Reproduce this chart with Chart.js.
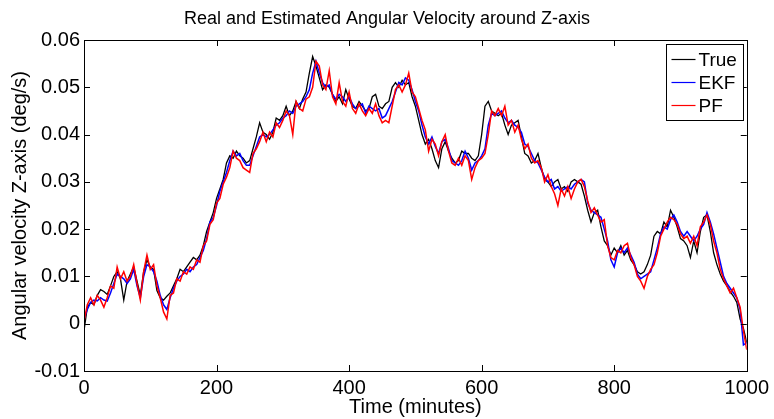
<!DOCTYPE html>
<html>
<head>
<meta charset="utf-8">
<script src="https://cdn.jsdelivr.net/npm/chart.js@4.4.0/dist/chart.umd.min.js"></script>
<style>
html, body { margin: 0; padding: 0; background: #fff; }
</style>
</head>
<body>
<canvas id="line-chart" width="774" height="419"></canvas>
<script>
// sample times, every 5 minutes from 0 to 1000
var minutes = [];
for (var m = 0; m <= 1000; m += 5) minutes.push(m);

// angular velocity around Z (deg/s)
var trueVel = [
  -0.0015, 0.0035, 0.0045, 0.0040, 0.0060, 0.0072, 0.0068, 0.0062, 0.0080, 0.0100,
  0.0110, 0.0095, 0.0050, 0.0090, 0.0105, 0.0120, 0.0090, 0.0060, 0.0110, 0.0135,
  0.0120, 0.0115, 0.0070, 0.0055, 0.0050, 0.0058, 0.0065, 0.0080, 0.0095, 0.0115,
  0.0110, 0.0120, 0.0130, 0.0140, 0.0135, 0.0145, 0.0165, 0.0195, 0.0215, 0.0235,
  0.0265, 0.0285, 0.0305, 0.0340, 0.0355, 0.0350, 0.0365, 0.0355, 0.0350, 0.0340,
  0.0345, 0.0370, 0.0395, 0.0425, 0.0405, 0.0400, 0.0390, 0.0405, 0.0435, 0.0430,
  0.0440, 0.0460, 0.0440, 0.0450, 0.0470, 0.0455, 0.0475, 0.0490, 0.0530, 0.0565,
  0.0545, 0.0520, 0.0495, 0.0505, 0.0500, 0.0485, 0.0470, 0.0480, 0.0465, 0.0495,
  0.0475, 0.0460, 0.0455, 0.0470, 0.0460, 0.0450, 0.0455, 0.0480, 0.0485, 0.0460,
  0.0455, 0.0465, 0.0470, 0.0500, 0.0510, 0.0500, 0.0515, 0.0505, 0.0510, 0.0480,
  0.0460, 0.0430, 0.0400, 0.0380, 0.0390, 0.0370, 0.0345, 0.0330, 0.0370, 0.0385,
  0.0365, 0.0350, 0.0340, 0.0345, 0.0365, 0.0360, 0.0360, 0.0350, 0.0345, 0.0355,
  0.0400, 0.0460, 0.0470, 0.0450, 0.0445, 0.0440, 0.0445, 0.0420, 0.0400, 0.0420,
  0.0425, 0.0430, 0.0395, 0.0360, 0.0355, 0.0340, 0.0345, 0.0360, 0.0330, 0.0305,
  0.0300, 0.0290, 0.0300, 0.0305, 0.0285, 0.0290, 0.0280, 0.0300, 0.0305, 0.0300,
  0.0295, 0.0270, 0.0240, 0.0215, 0.0235, 0.0240, 0.0205, 0.0175, 0.0165, 0.0145,
  0.0160, 0.0150, 0.0165, 0.0145, 0.0155, 0.0135, 0.0125, 0.0110, 0.0105, 0.0110,
  0.0125, 0.0145, 0.0185, 0.0195, 0.0190, 0.0215, 0.0205, 0.0240, 0.0225, 0.0205,
  0.0180, 0.0175, 0.0165, 0.0140, 0.0175, 0.0150, 0.0195, 0.0225, 0.0230, 0.0195,
  0.0150, 0.0125, 0.0105, 0.0090, 0.0080, 0.0068, 0.0058, 0.0045, 0.0010, -0.0010,
  -0.0040
];

var ekfVel = [
  0.0010, 0.0030, 0.0045, 0.0050, 0.0048, 0.0055, 0.0050, 0.0048, 0.0065, 0.0085,
  0.0105, 0.0100, 0.0095, 0.0085, 0.0095, 0.0115, 0.0080, 0.0055, 0.0100, 0.0125,
  0.0120, 0.0110, 0.0090, 0.0060, 0.0040, 0.0030, 0.0055, 0.0075, 0.0090, 0.0100,
  0.0105, 0.0115, 0.0110, 0.0120, 0.0125, 0.0140, 0.0155, 0.0180, 0.0215, 0.0225,
  0.0250, 0.0280, 0.0300, 0.0320, 0.0345, 0.0365, 0.0355, 0.0360, 0.0345, 0.0335,
  0.0335, 0.0355, 0.0375, 0.0395, 0.0400, 0.0395, 0.0400, 0.0410, 0.0420, 0.0425,
  0.0435, 0.0440, 0.0450, 0.0445, 0.0460, 0.0465, 0.0470, 0.0480, 0.0495, 0.0530,
  0.0555, 0.0530, 0.0510, 0.0500, 0.0505, 0.0485, 0.0475, 0.0485, 0.0480, 0.0470,
  0.0480, 0.0465, 0.0455, 0.0460, 0.0465, 0.0445, 0.0460, 0.0455, 0.0450, 0.0455,
  0.0435, 0.0440, 0.0455, 0.0470, 0.0490, 0.0510, 0.0505, 0.0520, 0.0515, 0.0495,
  0.0470, 0.0450, 0.0420, 0.0395, 0.0380, 0.0395, 0.0375, 0.0360, 0.0385, 0.0390,
  0.0370, 0.0345, 0.0340, 0.0335, 0.0345, 0.0365, 0.0350, 0.0325, 0.0340, 0.0345,
  0.0355, 0.0370, 0.0420, 0.0445, 0.0440, 0.0445, 0.0450, 0.0435, 0.0425, 0.0430,
  0.0420, 0.0415, 0.0405, 0.0380, 0.0375, 0.0360, 0.0345, 0.0340, 0.0325, 0.0310,
  0.0300, 0.0305, 0.0285, 0.0290, 0.0280, 0.0285, 0.0290, 0.0285, 0.0295, 0.0300,
  0.0305, 0.0300, 0.0255, 0.0240, 0.0235, 0.0230, 0.0225, 0.0200, 0.0175, 0.0135,
  0.0120, 0.0150, 0.0160, 0.0150, 0.0160, 0.0145, 0.0130, 0.0105, 0.0095, 0.0100,
  0.0105, 0.0110, 0.0135, 0.0160, 0.0190, 0.0205, 0.0200, 0.0220, 0.0230, 0.0215,
  0.0195, 0.0185, 0.0195, 0.0185, 0.0175, 0.0185, 0.0200, 0.0210, 0.0235, 0.0215,
  0.0190, 0.0160, 0.0130, 0.0100, 0.0085, 0.0075, 0.0065, 0.0055, 0.0030, -0.0045,
  -0.0040
];

var pfVel = [
  0.0005, 0.0040, 0.0055, 0.0040, 0.0060, 0.0050, 0.0035, 0.0055, 0.0080, 0.0075,
  0.0120, 0.0095, 0.0110, 0.0090, 0.0100, 0.0125, 0.0085, 0.0050, 0.0110, 0.0145,
  0.0115, 0.0125, 0.0080, 0.0055, 0.0025, 0.0010, 0.0060, 0.0065, 0.0095, 0.0090,
  0.0110, 0.0105, 0.0120, 0.0115, 0.0135, 0.0130, 0.0165, 0.0175, 0.0210, 0.0220,
  0.0255, 0.0265, 0.0295, 0.0310, 0.0330, 0.0365, 0.0350, 0.0345, 0.0330, 0.0325,
  0.0320, 0.0360, 0.0370, 0.0385, 0.0405, 0.0385, 0.0405, 0.0395, 0.0425, 0.0415,
  0.0430, 0.0450, 0.0440, 0.0400, 0.0470, 0.0455, 0.0450, 0.0475, 0.0480, 0.0500,
  0.0555, 0.0545, 0.0505, 0.0495, 0.0535, 0.0480, 0.0465, 0.0510, 0.0470, 0.0460,
  0.0490, 0.0455, 0.0445, 0.0465, 0.0450, 0.0440, 0.0455, 0.0445, 0.0465, 0.0440,
  0.0425, 0.0430, 0.0425, 0.0460, 0.0495, 0.0505, 0.0490, 0.0505, 0.0530, 0.0490,
  0.0480, 0.0455, 0.0430, 0.0410, 0.0365, 0.0390, 0.0380, 0.0355, 0.0385, 0.0400,
  0.0365, 0.0340, 0.0335, 0.0350, 0.0335, 0.0355, 0.0345, 0.0305, 0.0330, 0.0345,
  0.0350, 0.0360, 0.0400, 0.0450, 0.0440, 0.0455, 0.0440, 0.0460, 0.0420, 0.0430,
  0.0405, 0.0420, 0.0390, 0.0370, 0.0380, 0.0350, 0.0340, 0.0345, 0.0330, 0.0300,
  0.0315, 0.0290, 0.0275, 0.0250, 0.0285, 0.0270, 0.0290, 0.0265, 0.0285, 0.0300,
  0.0305, 0.0290, 0.0260, 0.0235, 0.0245, 0.0230, 0.0215, 0.0220, 0.0165, 0.0140,
  0.0135, 0.0155, 0.0150, 0.0165, 0.0170, 0.0140, 0.0125, 0.0100, 0.0090, 0.0075,
  0.0100, 0.0115, 0.0125, 0.0150, 0.0185, 0.0200, 0.0215, 0.0225, 0.0220, 0.0210,
  0.0190, 0.0180, 0.0185, 0.0170, 0.0185, 0.0165, 0.0205, 0.0215, 0.0230, 0.0210,
  0.0175, 0.0150, 0.0115, 0.0095, 0.0080, 0.0065, 0.0075, 0.0055, 0.0035, -0.0015,
  -0.0055
];

var seriesNames = ["True", "EKF", "PF"];
var seriesColors = ["#000000", "#0000ff", "#ff0000"];
var xTicks = [0, 200, 400, 600, 800, 1000];
var yTicks = [-0.01, 0, 0.01, 0.02, 0.03, 0.04, 0.05, 0.06];
var chartTitle = "Real and Estimated Angular Velocity around Z-axis";

var FONT = "'Liberation Sans', Arial, Helvetica, sans-serif";

function toPoints(vals) {
    return vals.map(function (v, i) { return { x: minutes[i], y: v }; });
}

// MATLAB style box with inward ticks on all four sides, plus title and legend
var matlabLook = {
    id: "matlabLook",
    afterDatasetsDraw: function (chart) {
        var ctx = chart.ctx, a = chart.chartArea;
        var xs = chart.scales.x, ys = chart.scales.y;
        ctx.save();
        ctx.strokeStyle = "#000";
        ctx.lineWidth = 1;
        ctx.strokeRect(Math.round(a.left) + 0.5, Math.round(a.top) + 0.5,
            Math.round(a.right - a.left), Math.round(a.bottom - a.top));
        ctx.beginPath();
        xTicks.forEach(function (t) {
            var px = Math.round(xs.getPixelForValue(t)) + 0.5;
            ctx.moveTo(px, a.bottom); ctx.lineTo(px, a.bottom - 6);
            ctx.moveTo(px, a.top); ctx.lineTo(px, a.top + 6);
        });
        yTicks.forEach(function (t) {
            var py = Math.round(ys.getPixelForValue(t)) + 0.5;
            ctx.moveTo(a.left, py); ctx.lineTo(a.left + 6, py);
            ctx.moveTo(a.right, py); ctx.lineTo(a.right - 6, py);
        });
        ctx.stroke();
        ctx.restore();
    },
    afterDraw: function (chart) {
        var ctx = chart.ctx, a = chart.chartArea;
        ctx.save();
        // title, centred on the whole figure
        ctx.fillStyle = "#000";
        ctx.font = "18px " + FONT;
        ctx.textAlign = "center";
        ctx.textBaseline = "middle";
        ctx.fillText(chartTitle, chart.width / 2, 19);

        // boxed legend in the upper right corner
        var w = 77, h = 76;
        var bx = Math.round(a.right - 4 - w) + 0.5, by = Math.round(a.top + 4) + 0.5;
        ctx.fillStyle = "#fff";
        ctx.fillRect(bx, by, w, h);
        ctx.strokeStyle = "#000";
        ctx.lineWidth = 1;
        ctx.strokeRect(bx, by, w, h);
        ctx.font = "19px " + FONT;
        ctx.textAlign = "left";
        chart.data.datasets.forEach(function (ds, i) {
            var cy = by + 15 + i * 23;
            ctx.strokeStyle = ds.borderColor;
            ctx.lineWidth = 1.2;
            ctx.beginPath();
            ctx.moveTo(bx + 5, cy);
            ctx.lineTo(bx + 29, cy);
            ctx.stroke();
            ctx.fillStyle = "#000";
            ctx.fillText(ds.label, bx + 32, cy + 1);
        });
        ctx.restore();
    }
};

var ctx = document.getElementById("line-chart").getContext("2d");
var allSeries = [trueVel, ekfVel, pfVel];

var chart = new Chart(ctx, {
    type: "line",
    data: {
        datasets: allSeries.map(function (vals, i) {
            return {
                label: seriesNames[i],
                data: toPoints(vals),
                borderColor: seriesColors[i],
                borderWidth: i === 0 ? 1.3 : 1.5,
                pointRadius: 0,
                fill: false,
                tension: 0,
                order: 2 - i
            };
        })
    },
    options: {
        responsive: false,
        animation: false,
        devicePixelRatio: 1,
        layout: { padding: { left: 0, right: 23, top: 40, bottom: 0 } },
        plugins: {
            legend: { display: false },
            tooltip: { enabled: false },
            title: { display: false }
        },
        scales: {
            x: {
                type: "linear",
                min: 0,
                max: 1000,
                afterFit: function (s) { s.height = 48; },
                afterBuildTicks: function (s) { s.ticks = xTicks.map(function (v) { return { value: v }; }); },
                grid: { display: false, drawTicks: false },
                border: { display: false },
                ticks: {
                    color: "#000",
                    padding: 5,
                    maxRotation: 0,
                    font: { family: FONT, size: 20 },
                    callback: function (v) { return String(v); }
                },
                title: {
                    display: true,
                    text: "Time (minutes)",
                    color: "#000",
                    font: { family: FONT, size: 20 },
                    padding: { top: 0, bottom: 0 }
                }
            },
            y: {
                min: -0.01,
                max: 0.06,
                afterFit: function (s) { s.width = 84; },
                afterBuildTicks: function (s) { s.ticks = yTicks.map(function (v) { return { value: v }; }); },
                grid: { display: false, drawTicks: false },
                border: { display: false },
                ticks: {
                    color: "#000",
                    padding: 4,
                    font: { family: FONT, size: 20 },
                    callback: function (v) { return String(Number(v.toFixed(2))); }
                },
                title: {
                    display: true,
                    text: "Angular velocity Z-axis (deg/s)",
                    color: "#000",
                    font: { family: FONT, size: 20 },
                    padding: { top: 8, bottom: 0 }
                }
            }
        }
    },
    plugins: [matlabLook]
});
</script>
</body>
</html>
